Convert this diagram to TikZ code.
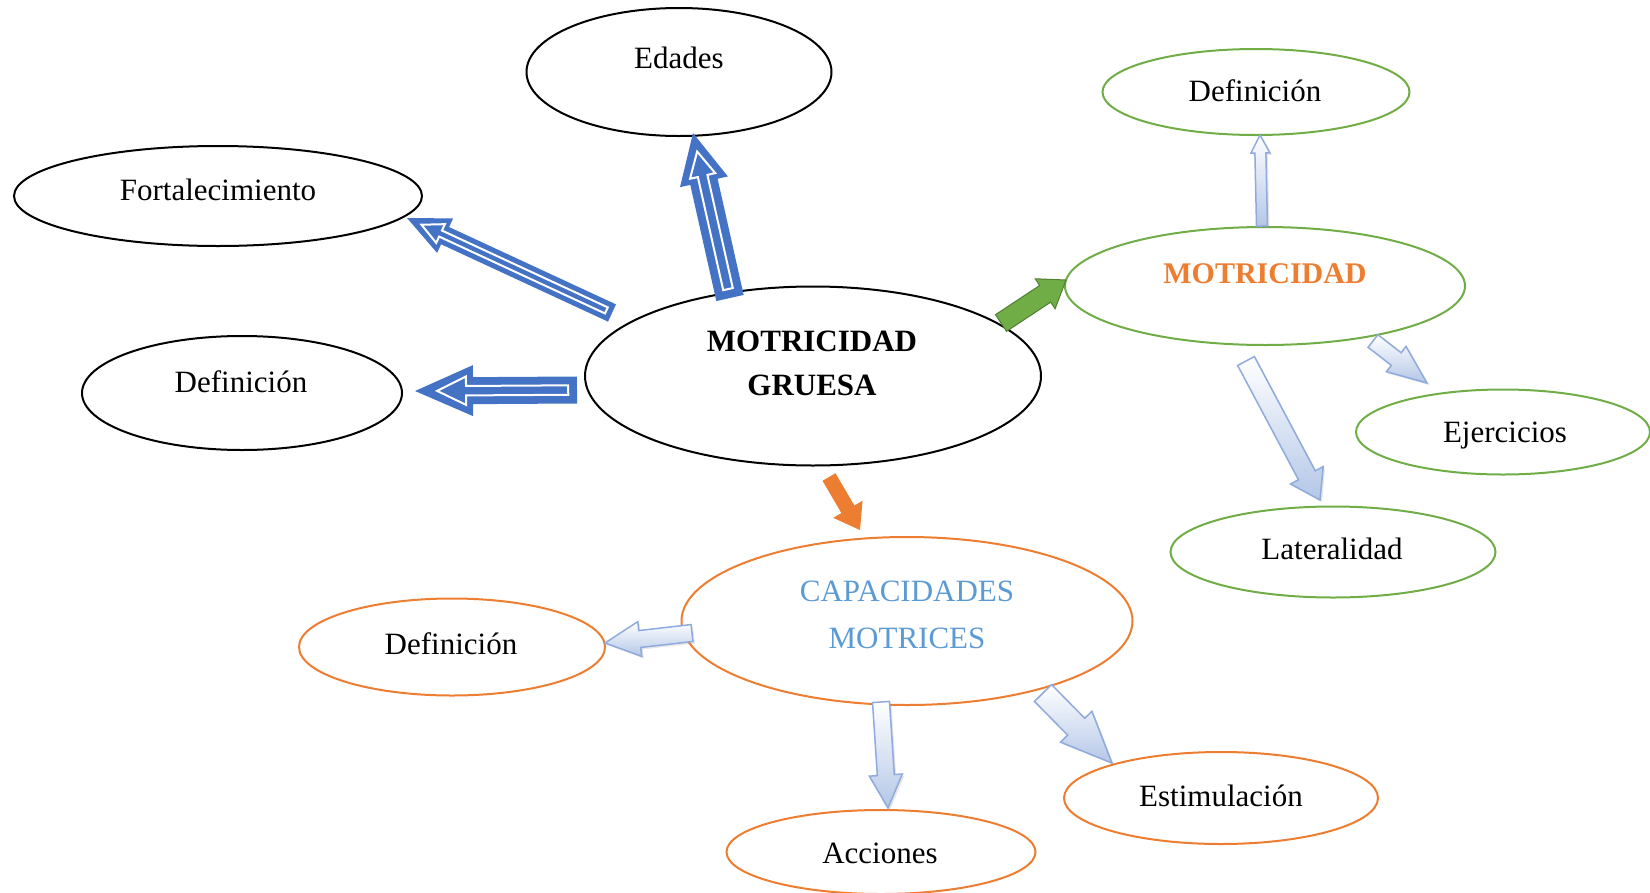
\documentclass[tikz,border=0pt]{standalone}
\usepackage{fontspec}
\setmainfont{Liberation Serif}
\usetikzlibrary{shapes.geometric,calc,shadows}

\definecolor{blueM}{HTML}{4472C4}
\definecolor{greenM}{HTML}{70AD47}
\definecolor{greenD}{HTML}{507E32}
\definecolor{orangeM}{HTML}{ED7D31}
\definecolor{lightA}{HTML}{B4C7E7}
\definecolor{lightE}{HTML}{8FAADC}
\definecolor{capblue}{HTML}{5B9BD5}

\tikzset{
  ell/.style={ellipse, line width=2pt, inner sep=0pt, fill=white},
  blackell/.style={ell, draw=black},
  greenell/.style={ell, draw=greenM},
  orangeell/.style={ell, draw=orangeM},
  txt/.style={inner sep=0pt, text height=.7em, text depth=.22em},
  bluearr/.style={fill=blueM},
  bluein/.style={fill=blueM, draw=white, line width=2pt},
  greenarr/.style={fill=greenM, draw=greenD, line width=1pt},
  orangearr/.style={fill=orangeM},
  lightarr/.style={top color=white, bottom color=lightA, draw=lightE, line width=1.5pt,
    drop shadow={opacity=0.2, shadow xshift=2pt, shadow yshift=-2pt}}
}

% block arrow: [style]{tail}{tip}{shaft half width}{head extend}{head length}
\newcommand\blockarrow[6][]{%
  \pgfmathsetmacro\ahs{#4}%
  \pgfmathsetmacro\ahw{#4+#5}%
  \coordinate (ahq) at ($(#3)!#6pt!(#2)$);
  \path[#1] ($(#2)!\ahs pt!90:(#3)$) -- ($(ahq)!\ahs pt!90:(#3)$)
    -- ($(ahq)!\ahw pt!90:(#3)$) -- (#3)
    -- ($(ahq)!\ahw pt!-90:(#3)$) -- ($(ahq)!\ahs pt!-90:(#3)$)
    -- ($(#2)!\ahs pt!-90:(#3)$) -- cycle;
}

% blue arrow with a thin outline inside
\newcommand\doublearrow[5]{%
  \blockarrow[bluearr]{#1}{#2}{#3}{#4}{#5}
  \pgfmathsetmacro\dain{0.65*#3}%
  \pgfmathsetmacro\datip{0.38*#5}%
  \coordinate (dat) at ($(#1)!\dain pt!(#2)$);
  \coordinate (dah) at ($(#2)!\datip pt!(#1)$);
  \pgfmathsetmacro\dains{#3-\dain}%
  \pgfmathsetmacro\daine{#4-2.5}%
  \pgfmathsetmacro\dainh{0.5*#5}%
  \blockarrow[bluein]{dat}{dah}{\dains}{\daine}{\dainh}
}

\begin{document}
\begin{tikzpicture}[x=1pt, y=-1pt, font=\fontsize{31}{44}\selectfont]
    \useasboundingbox (0,0) rectangle (1650,892);

    % centre
    \node[blackell, minimum width=456pt, minimum height=179pt] (gruesa) at (813,376) {};
    \node[inner sep=0pt, align=center, font=\fontsize{31}{44}\selectfont\bfseries] (gruesa-t) at (812,363) {MOTRICIDAD\\GRUESA};

    % left group
    \node[blackell, minimum width=305pt, minimum height=128pt] (edades) at (679,72) {};
    \node[txt] (edades-t) at (679,66) {Edades};
    \node[blackell, minimum width=408pt, minimum height=100pt] (fort) at (218,196) {};
    \node[txt] (fort-t) at (218,198) {Fortalecimiento};
    \node[blackell, minimum width=320pt, minimum height=114pt] (defA) at (242,393) {};
    \node[txt] (defA-t) at (241,390) {Definición};

    \coordinate (toEdades-s) at (730,298);
    \coordinate (toEdades-e) at (693,133);
    \coordinate (toFort-s) at (612,313);
    \coordinate (toFort-e) at (407,218);
    \coordinate (toDefA-s) at (577,390);
    \coordinate (toDefA-e) at (415,391);
    \doublearrow{toEdades-s}{toEdades-e}{14}{10.5}{50}
    \doublearrow{toFort-s}{toFort-e}{9.5}{9.5}{42}
    \doublearrow{toDefA-s}{toDefA-e}{13.5}{12}{58}

    % right group
    \node[greenell, minimum width=400pt, minimum height=118pt] (motr) at (1265,286) {};
    \node[txt, text=orangeM, font=\fontsize{30}{36}\selectfont\bfseries] (motr-t) at (1265,281) {MOTRICIDAD};
    \node[greenell, minimum width=307pt, minimum height=86pt] (defB) at (1256,92) {};
    \node[txt] (defB-t) at (1255,99) {Definición};
    \node[greenell, minimum width=294pt, minimum height=85pt] (ejer) at (1503,432) {};
    \node[txt] (ejer-t) at (1505,440) {Ejercicios};
    \node[greenell, minimum width=325pt, minimum height=91pt] (later) at (1333,552) {};
    \node[txt] (later-t) at (1332,557) {Lateralidad};

    \coordinate (toMotr-s) at (1001,323);
    \coordinate (toMotr-e) at (1066,280);
    \blockarrow[greenarr]{toMotr-s}{toMotr-e}{10}{8}{25}
    \coordinate (toDefB-s) at (1262,226);
    \coordinate (toDefB-e) at (1260,135);
    \blockarrow[lightarr]{toDefB-s}{toDefB-e}{5.5}{4}{18}
    \coordinate (toEjer-s) at (1373,341);
    \coordinate (toEjer-e) at (1427,383);
    \blockarrow[lightarr]{toEjer-s}{toEjer-e}{8}{8}{39}
    \coordinate (toLater-s) at (1246,361);
    \coordinate (toLater-e) at (1320,500);
    \blockarrow[lightarr]{toLater-s}{toLater-e}{9.5}{9}{28}

    % bottom group
    \node[orangeell, minimum width=451pt, minimum height=168pt] (capac) at (907,621) {};
    \node[inner sep=0pt, align=center, text=capblue, font=\fontsize{31}{47}\selectfont] (capac-t) at (907,615) {CAPACIDADES\\MOTRICES};
    \node[orangeell, minimum width=306pt, minimum height=97pt] (defC) at (452,647) {};
    \node[txt] (defC-t) at (451,652) {Definición};
    \node[orangeell, minimum width=309pt, minimum height=84pt] (acc) at (881,852) {};
    \node[txt] (acc-t) at (880,861) {Acciones};
    \node[orangeell, minimum width=314pt, minimum height=92pt] (estim) at (1221,798) {};
    \node[txt] (estim-t) at (1221,804) {Estimulación};

    \coordinate (toCapac-s) at (829,477);
    \coordinate (toCapac-e) at (860,530);
    \blockarrow[orangearr]{toCapac-s}{toCapac-e}{7.5}{9.5}{24}
    \coordinate (toDefC-s) at (692,633);
    \coordinate (toDefC-e) at (605,643);
    \blockarrow[lightarr]{toDefC-s}{toDefC-e}{8.5}{9}{35}
    \coordinate (toAcc-s) at (881,702);
    \coordinate (toAcc-e) at (888,808);
    \blockarrow[lightarr]{toAcc-s}{toAcc-e}{8.5}{8}{33}
    \coordinate (toEstim-s) at (1043,693);
    \coordinate (toEstim-e) at (1112,763);
    \blockarrow[lightarr]{toEstim-s}{toEstim-e}{12}{10}{51}

\end{tikzpicture}
\end{document}
